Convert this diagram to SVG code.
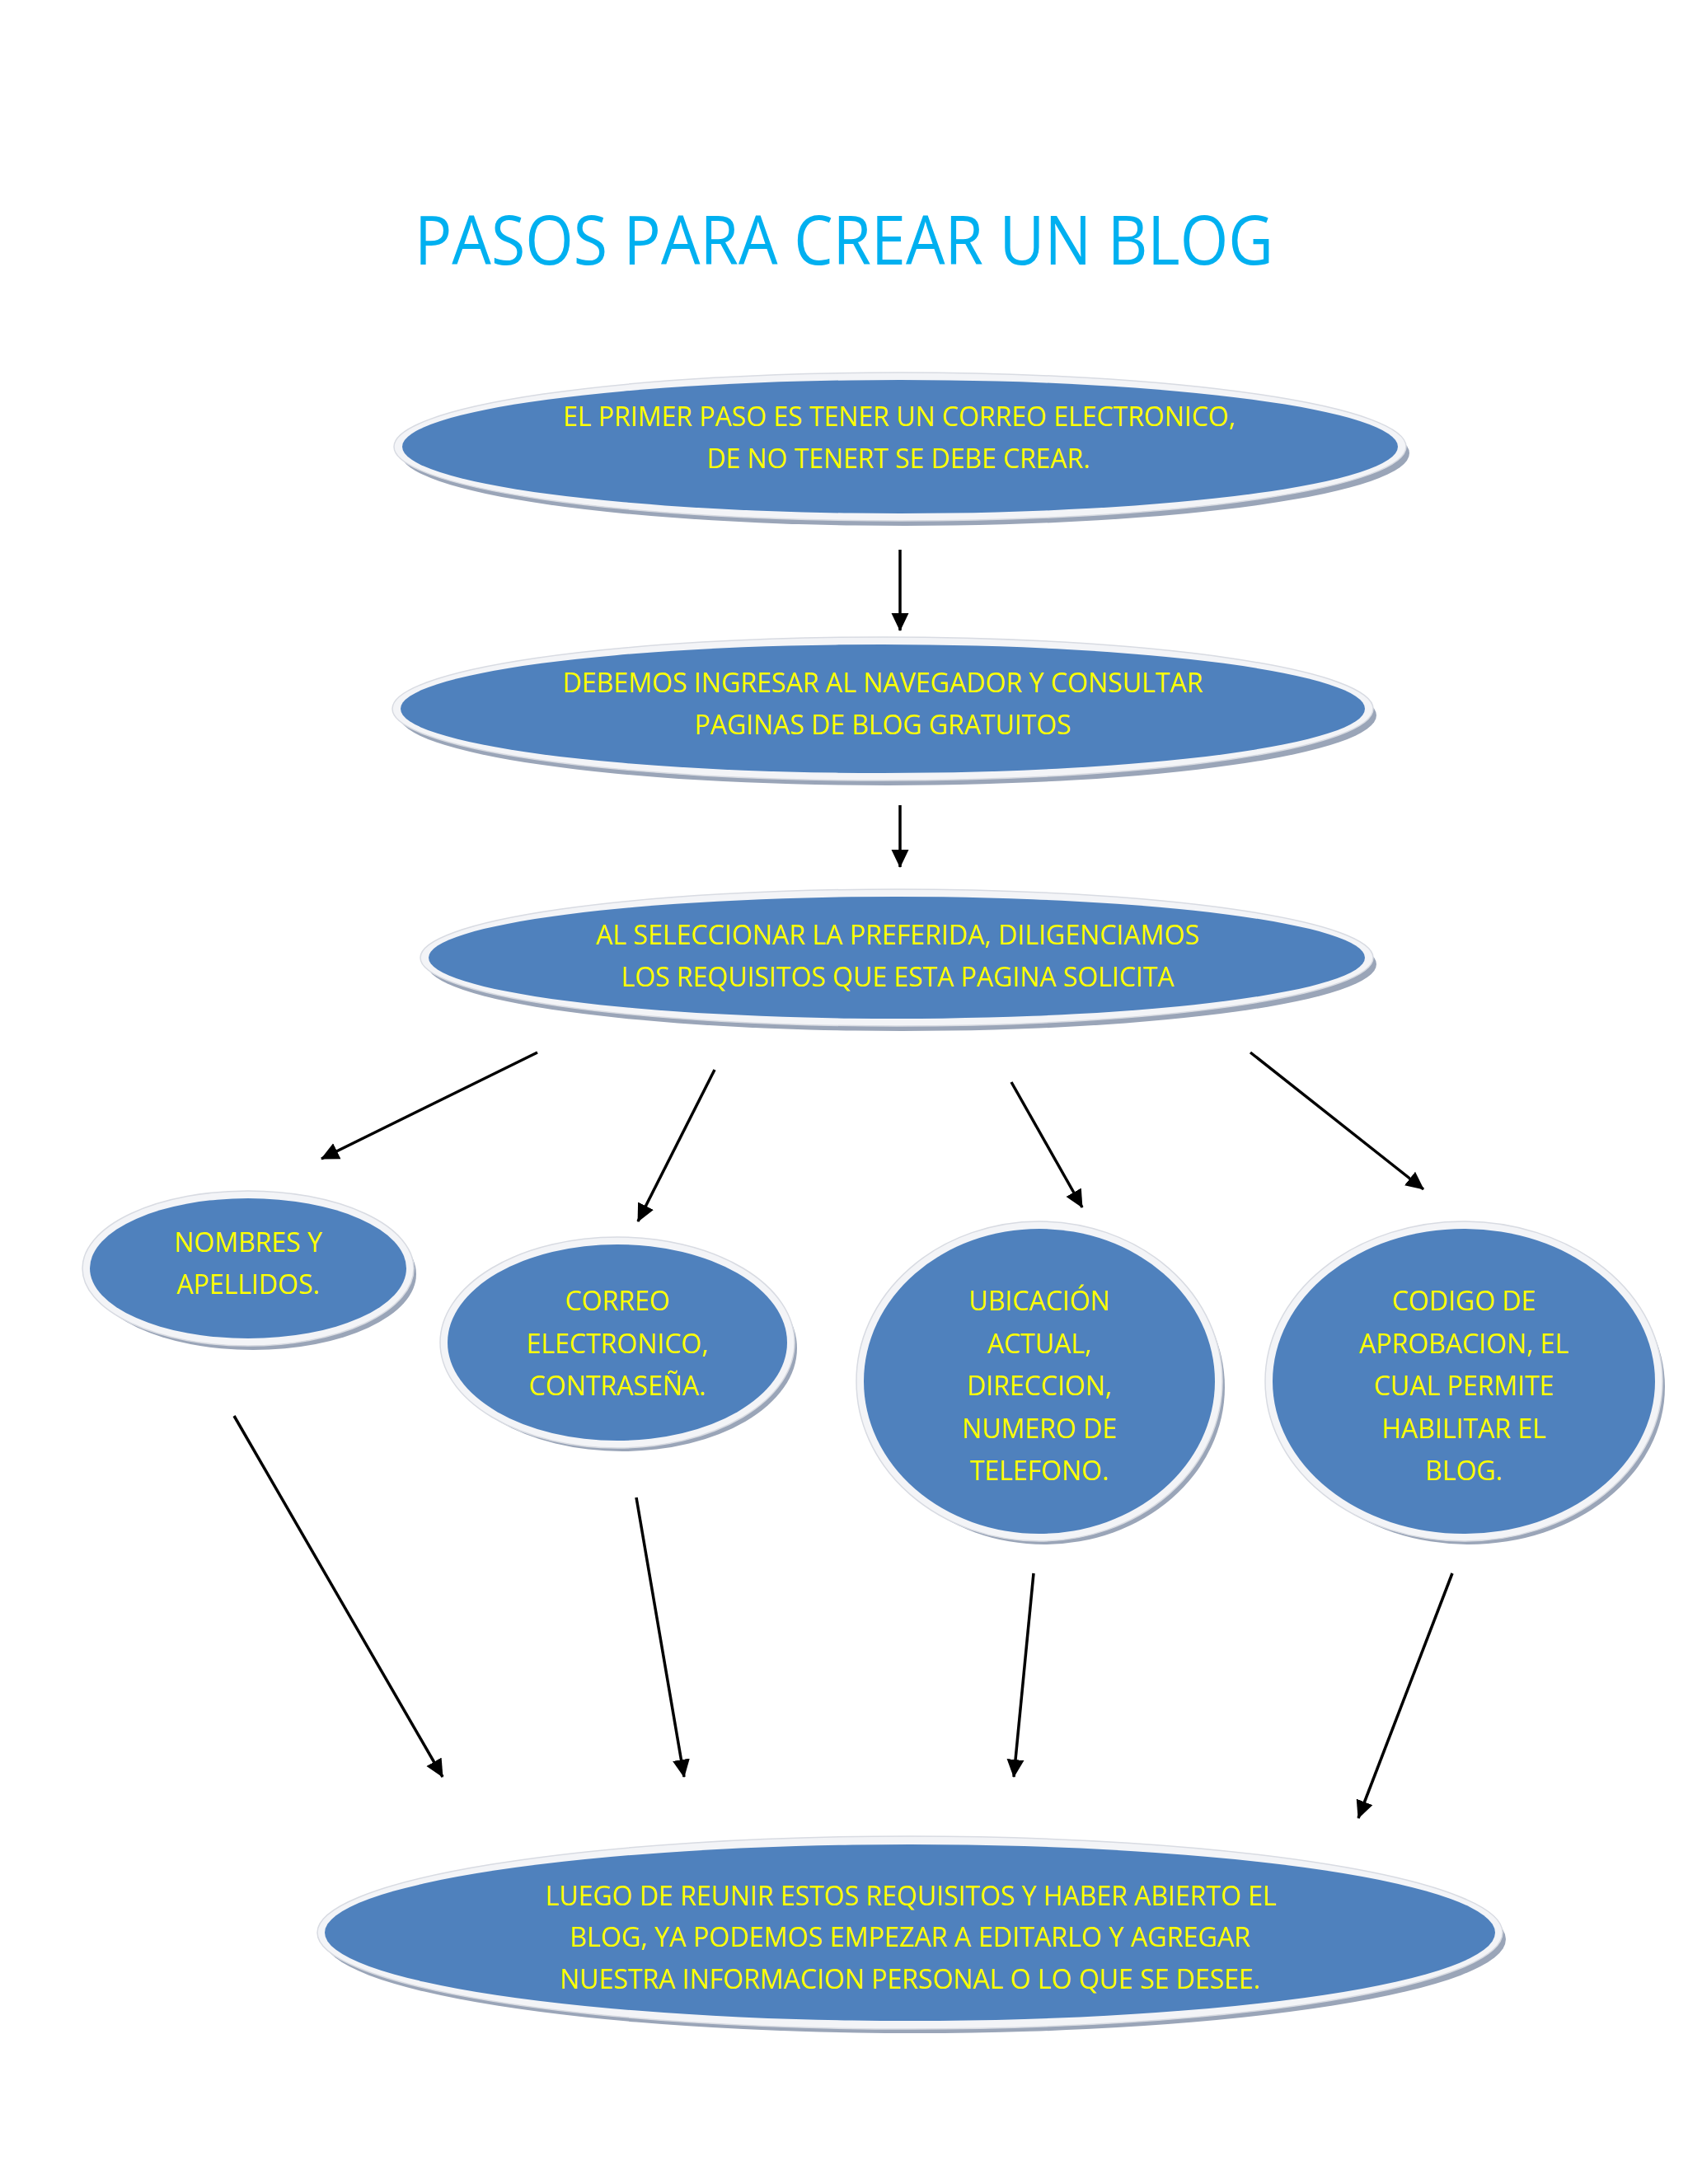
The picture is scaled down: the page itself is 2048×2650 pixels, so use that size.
<svg xmlns="http://www.w3.org/2000/svg" width="2048" height="2650" viewBox="0 0 2048 2650">
<defs>
<marker id="ah" markerWidth="22" markerHeight="22" refX="21" refY="10.5" orient="auto" markerUnits="userSpaceOnUse" viewBox="0 0 22 21">
<path d="M0,0 L22,10.5 L0,21 z" fill="#000"/>
</marker>
<style>
.sh{fill:#9aa5b8;}
.rim{fill:#f3f4f7;stroke:#d8dbe2;stroke-width:1.5;}
.blue{fill:#4f81bd;}
.t{font-family:"Open Sans","Liberation Sans",sans-serif;font-size:32px;fill:#ffff00;text-anchor:middle;}
.c{stroke:#000;stroke-width:3.5;fill:none;marker-end:url(#ah);}
</style>
</defs>
<rect width="2048" height="2650" fill="#ffffff"/>
<text x="1024" y="321" font-family="'Open Sans','Liberation Sans',sans-serif" font-size="82" fill="#00b0f0" text-anchor="middle" textLength="1042" lengthAdjust="spacingAndGlyphs">PASOS PARA CREAR UN BLOG</text>

<g id="connectors">
<line class="c" x1="1092" y1="667" x2="1092" y2="765"/>
<line class="c" x1="1092" y1="977" x2="1092" y2="1052"/>
<line class="c" x1="652" y1="1277" x2="390" y2="1406"/>
<line class="c" x1="867" y1="1298" x2="774" y2="1482"/>
<line class="c" x1="1227" y1="1313" x2="1313" y2="1465"/>
<line class="c" x1="1517" y1="1277" x2="1727" y2="1443"/>
<line class="c" x1="284" y1="1718" x2="537" y2="2156"/>
<line class="c" x1="772" y1="1817" x2="830" y2="2156"/>
<line class="c" x1="1254" y1="1909" x2="1230" y2="2156"/>
<line class="c" x1="1762" y1="1909" x2="1648" y2="2206"/>
</g>

<g id="n1">
<ellipse class="sh" cx="1098" cy="550" rx="612" ry="88"/>
<ellipse class="rim" cx="1092" cy="542" rx="614" ry="90"/>
<ellipse class="blue" cx="1092" cy="542" rx="604" ry="81"/>
<text class="t" x="1091" y="517" textLength="816" lengthAdjust="spacingAndGlyphs">EL PRIMER PASO ES TENER UN CORREO ELECTRONICO,</text>
<text class="t" x="1090" y="568" textLength="465" lengthAdjust="spacingAndGlyphs">DE NO TENERT SE DEBE CREAR.</text>
</g>

<g id="n2">
<ellipse class="sh" cx="1077" cy="868" rx="593" ry="85"/>
<ellipse class="rim" cx="1071" cy="860" rx="595" ry="87"/>
<ellipse class="blue" cx="1071" cy="860" rx="585" ry="78"/>
<text class="t" x="1071" y="840" textLength="777" lengthAdjust="spacingAndGlyphs">DEBEMOS INGRESAR AL NAVEGADOR Y CONSULTAR</text>
<text class="t" x="1071" y="891" textLength="457" lengthAdjust="spacingAndGlyphs">PAGINAS DE BLOG GRATUITOS</text>
</g>

<g id="n3">
<ellipse class="sh" cx="1094" cy="1170" rx="576" ry="81"/>
<ellipse class="rim" cx="1088" cy="1162" rx="578" ry="83"/>
<ellipse class="blue" cx="1088" cy="1162" rx="568" ry="74"/>
<text class="t" x="1089" y="1146" textLength="732" lengthAdjust="spacingAndGlyphs">AL SELECCIONAR LA PREFERIDA, DILIGENCIAMOS</text>
<text class="t" x="1089" y="1197" textLength="671" lengthAdjust="spacingAndGlyphs">LOS REQUISITOS QUE ESTA PAGINA SOLICITA</text>
</g>

<g id="n4">
<ellipse class="sh" cx="307" cy="1546" rx="198" ry="92"/>
<ellipse class="rim" cx="301" cy="1539" rx="201" ry="94"/>
<ellipse class="blue" cx="301" cy="1539" rx="192" ry="85"/>
<text class="t" x="301" y="1519">NOMBRES Y</text>
<text class="t" x="301" y="1570">APELLIDOS.</text>
</g>

<g id="n5">
<ellipse class="sh" cx="755" cy="1636" rx="212" ry="125"/>
<ellipse class="rim" cx="749" cy="1629" rx="215" ry="128"/>
<ellipse class="blue" cx="749" cy="1629" rx="206" ry="119"/>
<text class="t" x="749" y="1590">CORREO</text>
<text class="t" x="749" y="1642">ELECTRONICO,</text>
<text class="t" x="749" y="1693">CONTRASEÑA.</text>
</g>

<g id="n6">
<ellipse class="sh" cx="1267" cy="1683" rx="219" ry="191"/>
<ellipse class="rim" cx="1261" cy="1676" rx="222" ry="194"/>
<ellipse class="blue" cx="1261" cy="1676" rx="213" ry="185"/>
<text class="t" x="1261" y="1590">UBICACIÓN</text>
<text class="t" x="1261" y="1642">ACTUAL,</text>
<text class="t" x="1261" y="1693">DIRECCION,</text>
<text class="t" x="1261" y="1745">NUMERO DE</text>
<text class="t" x="1261" y="1796">TELEFONO.</text>
</g>

<g id="n7">
<ellipse class="sh" cx="1782" cy="1683" rx="238" ry="191"/>
<ellipse class="rim" cx="1776" cy="1676" rx="241" ry="194"/>
<ellipse class="blue" cx="1776" cy="1676" rx="232" ry="185"/>
<text class="t" x="1776" y="1590">CODIGO DE</text>
<text class="t" x="1776" y="1642">APROBACION, EL</text>
<text class="t" x="1776" y="1693">CUAL PERMITE</text>
<text class="t" x="1776" y="1745">HABILITAR EL</text>
<text class="t" x="1776" y="1796">BLOG.</text>
</g>

<g id="n8">
<ellipse class="sh" cx="1110" cy="2353" rx="717" ry="114"/>
<ellipse class="rim" cx="1104" cy="2345" rx="719" ry="117"/>
<ellipse class="blue" cx="1104" cy="2345" rx="710" ry="107"/>
<text class="t" x="1105" y="2312" textLength="887" lengthAdjust="spacingAndGlyphs">LUEGO DE REUNIR ESTOS REQUISITOS Y HABER ABIERTO EL</text>
<text class="t" x="1104" y="2362" textLength="826" lengthAdjust="spacingAndGlyphs">BLOG, YA PODEMOS EMPEZAR A EDITARLO Y AGREGAR</text>
<text class="t" x="1104" y="2413" textLength="850" lengthAdjust="spacingAndGlyphs">NUESTRA INFORMACION PERSONAL O LO QUE SE DESEE.</text>
</g>
</svg>
